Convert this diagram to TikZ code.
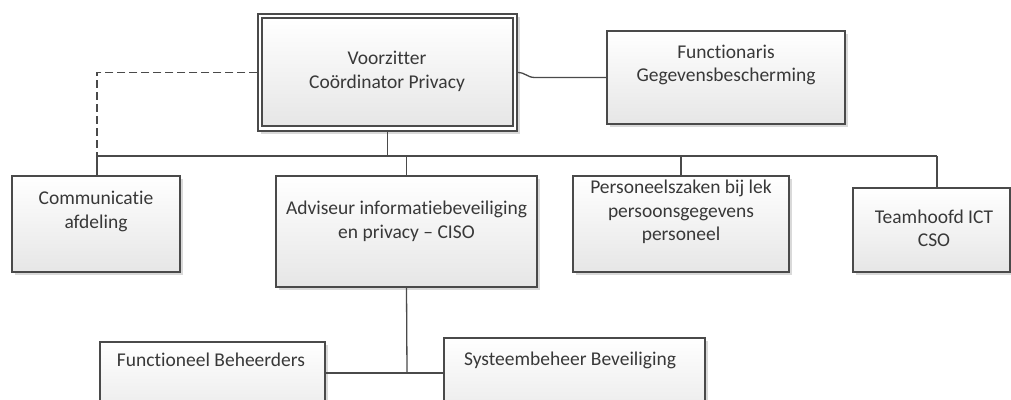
\documentclass[tikz,border=0pt]{standalone}
\usepackage{fontspec}
\setmainfont{Carlito}[Ligatures={NoCommon,TeX}]
\usetikzlibrary{shadows}
\definecolor{linegray}{HTML}{4A4A4A}
\definecolor{textgray}{HTML}{383838}
\definecolor{boxbottom}{HTML}{E6E6E6}
\tikzset{
  orgbox/.style={draw=linegray, line width=1.3pt, rectangle, inner sep=0pt,
    top color=white, bottom color=boxbottom,
    drop shadow={fill=black, opacity=0.15, shadow xshift=2.5pt, shadow yshift=-2.5pt}},
  outerbox/.style={draw=linegray, line width=1.3pt, rectangle, inner sep=0pt, fill=white,
    drop shadow={fill=black, opacity=0.15, shadow xshift=2.5pt, shadow yshift=-2.5pt}},
  innerbox/.style={draw=linegray, line width=1.3pt, rectangle, inner sep=0pt,
    top color=white, bottom color=boxbottom},
  lbl/.style={align=center, inner sep=0pt, text=textgray,
    font=\fontsize{19.5}{23.5}\selectfont},
  conn/.style={draw=linegray, line width=1.3pt},
  dashconn/.style={draw=linegray, line width=1.3pt, dash pattern=on 8pt off 4pt}
}
\begin{document}
\begin{tikzpicture}[x=1pt,y=-1pt]
\clip (0,0) rectangle (1011,399);
\fill[white] (0,0) rectangle (1011,399);
% top box (double border)
\node[outerbox, minimum width=259pt, minimum height=117pt] (top) at (387.5,72.5) {};
\node[innerbox, minimum width=251pt, minimum height=108pt] (topin) at (387.5,72) {};
\node[lbl] (toptxt) at (387,71.5) {Voorzitter\\Coördinator Privacy};
% functionaris
\node[orgbox, minimum width=238pt, minimum height=93pt] (fg) at (726,77.5) {};
\node[lbl] (fgtxt) at (726,65) {Functionaris\\Gegevensbescherming};
% second row
\node[orgbox, minimum width=168pt, minimum height=96pt] (comm) at (96,224) {};
\node[lbl] (commtxt) at (96,211.5) {Communicatie\\afdeling};
\node[orgbox, minimum width=261pt, minimum height=111pt] (adv) at (406.5,231.5) {};
\node[lbl] (advtxt) at (406.5,221.5) {Adviseur informatiebeveiliging\\en privacy -- CISO};
\node[orgbox, minimum width=216pt, minimum height=96pt] (pers) at (681,224) {};
\node[lbl] (perstxt) at (681,212) {Personeelszaken bij lek\\persoonsgegevens\\personeel};
\node[orgbox, minimum width=157pt, minimum height=84pt] (team) at (931.5,230) {};
\node[lbl] (teamtxt) at (934,228.5) {Teamhoofd ICT\\CSO};
% third row
\node[orgbox, minimum width=225pt, minimum height=88pt] (fb) at (212.5,386) {};
\node[lbl] (fbtxt) at (211,360) {Functioneel Beheerders};
\node[orgbox, minimum width=261pt, minimum height=92pt] (sb) at (574.5,384) {};
\node[lbl] (sbtxt) at (570,360) {Systeembeheer Beveiliging};
% connectors
\coordinate (busL) at (97,156);
\coordinate (busR) at (937,156);
\coordinate (j) at (407,373);
\coordinate (fgj) at (535,77.5);
\draw[conn] (busL) -- (busR);
\draw[conn] (top.south) -- (top.south |- busL);
\draw[conn] (busL) -- (comm.north -| busL);
\draw[conn] (adv.north |- busL) -- (adv.north);
\draw[conn] (pers.north |- busL) -- (pers.north);
\draw[conn] (busR) -- (busR |- team.north);
\draw[dashconn] (top.west) -| (busL);
\draw[conn] (top.east) .. controls +(8,0) and +(-8,0) .. (fgj) -- (fg.west);
\draw[conn] (adv.south) -- (j);
\draw[conn] (fb.east |- j) -- (j) -- (sb.west |- j);
\end{tikzpicture}
\end{document}
